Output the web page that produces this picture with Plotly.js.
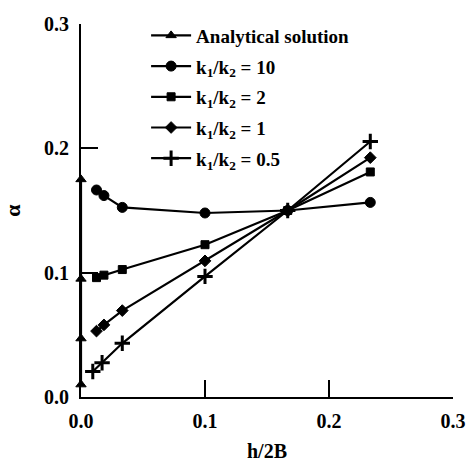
<!DOCTYPE html>
<html>
<head>
<meta charset="utf-8">
<script src="https://cdn.plot.ly/plotly-3.0.1.min.js"></script>
<style>html,body{margin:0;padding:0;background:#fff;}#chart{width:466px;height:462px;}</style>
</head>
<body>
<div id="chart"></div>
<script>
// Data
const analyticalX = [0, 0, 0, 0];
const analyticalY = [0.010, 0.047, 0.095, 0.175];

const k10X = [0.0125, 0.0185, 0.0333, 0.1, 0.1667, 0.2333];
const k10Y = [0.1665, 0.162, 0.1525, 0.148, 0.150, 0.1565];

const k2X = [0.0125, 0.0185, 0.0333, 0.1, 0.1667, 0.2333];
const k2Y = [0.096, 0.098, 0.1025, 0.1225, 0.150, 0.181];

const k1X = [0.0125, 0.0185, 0.0333, 0.1, 0.1667, 0.2333];
const k1Y = [0.053, 0.058, 0.0695, 0.1095, 0.150, 0.1925];

const k05X = [0.0095, 0.017, 0.0333, 0.1, 0.1667, 0.2333];
const k05Y = [0.0205, 0.0275, 0.0432, 0.097, 0.150, 0.2055];

const seriesNames = [
  'Analytical solution',
  'k<sub>1</sub>/k<sub>2</sub> = 10',
  'k<sub>1</sub>/k<sub>2</sub> = 2',
  'k<sub>1</sub>/k<sub>2</sub> = 1',
  'k<sub>1</sub>/k<sub>2</sub> = 0.5'
];
const tickValues = [0, 0.1, 0.2, 0.3];
const tickLabels = ['0.0', '0.1', '0.2', '0.3'];

const FONT = 'Liberation Serif, Times New Roman, serif';
const lineStyle = {color: '#000', width: 2.2};

function tr(x, y, name, symbol, size, lw, grp) {
  return {
    x: x, y: y, name: name, type: 'scatter', mode: 'lines+markers',
    legendgroup: grp,
    cliponaxis: false,
    line: lineStyle,
    marker: {symbol: symbol, size: size, color: '#000', line: {color: '#000', width: lw}}
  };
}

const data = [
  tr(analyticalX, analyticalY, seriesNames[0], 'triangle-up', 9, 1, 'g0'),
  tr(k10X, k10Y, seriesNames[1], 'circle', 10, 1, 'g1'),
  tr(k2X, k2Y, seriesNames[2], 'square', 8, 1, 'g2'),
  tr(k1X, k1Y, seriesNames[3], 'diamond', 9, 1, 'g3'),
  tr(k05X, k05Y, seriesNames[4], 'cross-thin-open', 11, 3, 'g4')
];

const axisCommon = {
  range: [0, 0.3],
  tickvals: tickValues,
  ticktext: tickLabels,
  ticks: 'inside',
  ticklen: 17,
  tickwidth: 2,
  tickcolor: '#000',
  showline: true,
  linecolor: '#000',
  linewidth: 2,
  showgrid: false,
  zeroline: false,
  mirror: false,
  tickfont: {family: FONT, size: 20, color: '#000', weight: 'bold'},
  fixedrange: true
};

const layout = {
  width: 466, height: 462,
  margin: {l: 81, r: 13, t: 24, b: 65},
  paper_bgcolor: '#fff', plot_bgcolor: '#fff',
  showlegend: true,
  legend: {
    x: 0.175, y: 1.02, xanchor: 'left', yanchor: 'top',
    bgcolor: 'rgba(0,0,0,0)',
    font: {family: FONT, size: 19, color: '#000', weight: 'bold'},
    tracegroupgap: 3,
    itemwidth: 40
  },
  xaxis: Object.assign({}, axisCommon, {
    ticklabelstandoff: 5,
    title: {text: 'h/2B', font: {family: FONT, size: 20, color: '#000', weight: 'bold'}, standoff: 18}
  }),
  yaxis: Object.assign({}, axisCommon, {
    ticklabelstandoff: 6,
    title: {text: 'α', font: {family: FONT, size: 22, color: '#000', weight: 'bold'}, standoff: 22}
  })
};

Plotly.newPlot('chart', data, layout, {displayModeBar: false, staticPlot: true});
</script>
</body>
</html>
